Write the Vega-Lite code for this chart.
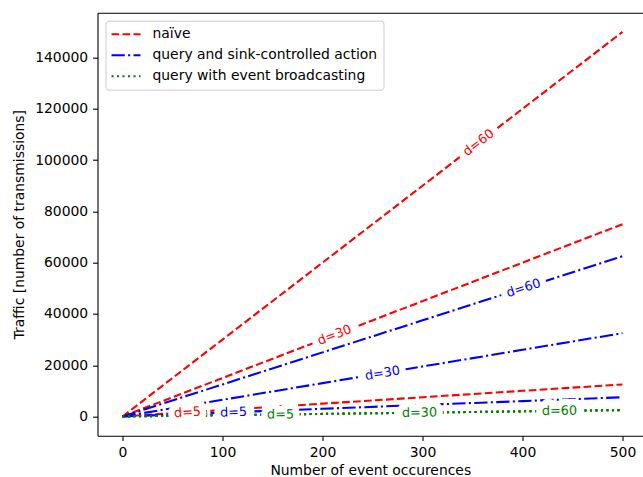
{
  "$schema": "https://vega.github.io/schema/vega-lite/v6.json",
  "width": 545.5,
  "height": 423,
  "autosize": {"type": "none"},
  "padding": {"left": 97.5, "top": 12.7, "right": 0, "bottom": 41.3},
  "background": "white",
  "config": {
    "view": {"stroke": null},
    "font": "DejaVu Sans",
    "axis": {
      "labelFont": "DejaVu Sans", "labelFontSize": 13.9, "labelColor": "black",
      "titleFont": "DejaVu Sans", "titleFontSize": 13.9, "titleFontWeight": "normal", "titleColor": "black",
      "domainColor": "black", "domainWidth": 1.1, "tickColor": "black", "tickWidth": 1.1,
      "tickSize": 4.9, "labelPadding": 4.9, "grid": false
    },
    "legend": {
      "labelFont": "DejaVu Sans", "labelFontSize": 13.9, "labelColor": "black", "labelLimit": 400
    }
  },
  "datasets": {
    "lines": [
      {"method": "naïve", "d": 60, "events": 0, "traffic": 0},
      {"method": "naïve", "d": 60, "events": 100, "traffic": 30000},
      {"method": "naïve", "d": 60, "events": 200, "traffic": 60000},
      {"method": "naïve", "d": 60, "events": 300, "traffic": 90000},
      {"method": "naïve", "d": 60, "events": 400, "traffic": 120000},
      {"method": "naïve", "d": 60, "events": 500, "traffic": 150000},
      {"method": "naïve", "d": 30, "events": 0, "traffic": 0},
      {"method": "naïve", "d": 30, "events": 100, "traffic": 15000},
      {"method": "naïve", "d": 30, "events": 200, "traffic": 30000},
      {"method": "naïve", "d": 30, "events": 300, "traffic": 45000},
      {"method": "naïve", "d": 30, "events": 400, "traffic": 60000},
      {"method": "naïve", "d": 30, "events": 500, "traffic": 75000},
      {"method": "naïve", "d": 5, "events": 0, "traffic": 0},
      {"method": "naïve", "d": 5, "events": 100, "traffic": 2500},
      {"method": "naïve", "d": 5, "events": 200, "traffic": 5000},
      {"method": "naïve", "d": 5, "events": 300, "traffic": 7500},
      {"method": "naïve", "d": 5, "events": 400, "traffic": 10000},
      {"method": "naïve", "d": 5, "events": 500, "traffic": 12500},
      {"method": "query and sink-controlled action", "d": 60, "events": 0, "traffic": 0},
      {"method": "query and sink-controlled action", "d": 60, "events": 100, "traffic": 12500},
      {"method": "query and sink-controlled action", "d": 60, "events": 200, "traffic": 25000},
      {"method": "query and sink-controlled action", "d": 60, "events": 300, "traffic": 37500},
      {"method": "query and sink-controlled action", "d": 60, "events": 400, "traffic": 50000},
      {"method": "query and sink-controlled action", "d": 60, "events": 500, "traffic": 62500},
      {"method": "query and sink-controlled action", "d": 30, "events": 0, "traffic": 0},
      {"method": "query and sink-controlled action", "d": 30, "events": 100, "traffic": 6500},
      {"method": "query and sink-controlled action", "d": 30, "events": 200, "traffic": 13000},
      {"method": "query and sink-controlled action", "d": 30, "events": 300, "traffic": 19500},
      {"method": "query and sink-controlled action", "d": 30, "events": 400, "traffic": 26000},
      {"method": "query and sink-controlled action", "d": 30, "events": 500, "traffic": 32500},
      {"method": "query and sink-controlled action", "d": 5, "events": 0, "traffic": 0},
      {"method": "query and sink-controlled action", "d": 5, "events": 100, "traffic": 1500},
      {"method": "query and sink-controlled action", "d": 5, "events": 200, "traffic": 3000},
      {"method": "query and sink-controlled action", "d": 5, "events": 300, "traffic": 4500},
      {"method": "query and sink-controlled action", "d": 5, "events": 400, "traffic": 6000},
      {"method": "query and sink-controlled action", "d": 5, "events": 500, "traffic": 7500},
      {"method": "query with event broadcasting", "d": 60, "events": 0, "traffic": 0},
      {"method": "query with event broadcasting", "d": 60, "events": 100, "traffic": 500},
      {"method": "query with event broadcasting", "d": 60, "events": 200, "traffic": 1000},
      {"method": "query with event broadcasting", "d": 60, "events": 300, "traffic": 1500},
      {"method": "query with event broadcasting", "d": 60, "events": 400, "traffic": 2000},
      {"method": "query with event broadcasting", "d": 60, "events": 500, "traffic": 2500},
      {"method": "query with event broadcasting", "d": 30, "events": 0, "traffic": 0},
      {"method": "query with event broadcasting", "d": 30, "events": 100, "traffic": 500},
      {"method": "query with event broadcasting", "d": 30, "events": 200, "traffic": 1000},
      {"method": "query with event broadcasting", "d": 30, "events": 300, "traffic": 1500},
      {"method": "query with event broadcasting", "d": 30, "events": 400, "traffic": 2000},
      {"method": "query with event broadcasting", "d": 30, "events": 500, "traffic": 2500},
      {"method": "query with event broadcasting", "d": 5, "events": 0, "traffic": 0},
      {"method": "query with event broadcasting", "d": 5, "events": 100, "traffic": 500},
      {"method": "query with event broadcasting", "d": 5, "events": 200, "traffic": 1000},
      {"method": "query with event broadcasting", "d": 5, "events": 300, "traffic": 1500},
      {"method": "query with event broadcasting", "d": 5, "events": 400, "traffic": 2000},
      {"method": "query with event broadcasting", "d": 5, "events": 500, "traffic": 2500}
    ],
    "labels": [
      {"method": "naïve", "label": "d=60", "rate": 300, "events": 356, "traffic": 106800},
      {"method": "naïve", "label": "d=30", "rate": 150, "events": 212, "traffic": 31800},
      {"method": "naïve", "label": "d=5", "rate": 25, "events": 65, "traffic": 1625},
      {"method": "query and sink-controlled action", "label": "d=60", "rate": 125, "events": 401, "traffic": 50125},
      {"method": "query and sink-controlled action", "label": "d=30", "rate": 65, "events": 260, "traffic": 16900},
      {"method": "query and sink-controlled action", "label": "d=5", "rate": 15, "events": 111, "traffic": 1665},
      {"method": "query with event broadcasting", "label": "d=5", "rate": 5, "events": 158, "traffic": 790},
      {"method": "query with event broadcasting", "label": "d=30", "rate": 5, "events": 297, "traffic": 1485},
      {"method": "query with event broadcasting", "label": "d=60", "rate": 5, "events": 437, "traffic": 2185}
    ]
  },
  "layer": [
    {
      "data": {"name": "lines"},
      "mark": {"type": "line", "strokeWidth": 2.08, "strokeCap": "butt"},
      "encoding": {
        "x": {
          "field": "events", "type": "quantitative",
          "scale": {"domain": [-25, 520.5], "nice": false, "zero": false},
          "axis": {"orient": "bottom", "values": [0, 100, 200, 300, 400, 500], "title": "Number of event occurences", "titlePadding": 4}
        },
        "y": {
          "field": "traffic", "type": "quantitative",
          "scale": {"domain": [-7500, 157500], "nice": false, "zero": false},
          "axis": {"values": [0, 20000, 40000, 60000, 80000, 100000, 120000, 140000], "format": "d", "title": "Traffic [number of transmissions]", "titlePadding": 8}
        },
        "color": {
          "field": "method", "type": "nominal",
          "scale": {"domain": ["naïve", "query and sink-controlled action", "query with event broadcasting"], "range": ["#ff0000", "#0000ff", "#008000"]},
          "legend": {
            "title": null, "orient": "top-left", "offset": 8,
            "symbolType": "M-1.25,0H3.58", "symbolSize": 144, "symbolStrokeWidth": 2.08,
            "labelOffset": 26, "rowPadding": 6, "padding": 6,
            "strokeColor": "#cccccc", "cornerRadius": 3, "fillColor": "white"
          }
        },
        "strokeDash": {
          "field": "method", "type": "nominal",
          "scale": {"domain": ["naïve", "query and sink-controlled action", "query with event broadcasting"], "range": [[7.7, 3.3], [13.3, 3.3, 2.1, 3.3], [2.1, 3.4]]},
          "legend": {
            "title": null, "orient": "top-left", "offset": 8,
            "symbolType": "M-1.25,0H3.58", "symbolSize": 144, "symbolStrokeWidth": 2.08,
            "labelOffset": 26, "rowPadding": 6, "padding": 6,
            "strokeColor": "#cccccc", "cornerRadius": 3, "fillColor": "white"
          }
        },
        "detail": {"field": "d", "type": "nominal"}
      }
    },
    {
      "data": {"name": "labels"},
      "mark": {"type": "text", "fill": "white", "stroke": "white", "strokeWidth": 13, "strokeJoin": "round", "fontSize": 12.8, "font": "DejaVu Sans", "align": "center", "baseline": "middle"},
      "encoding": {
        "x": {
          "field": "events", "type": "quantitative",
          "scale": {"domain": [-25, 520.5], "nice": false, "zero": false},
          "axis": {"orient": "top", "labels": false, "ticks": false, "title": null, "domain": true}
        },
        "y": {"field": "traffic", "type": "quantitative", "scale": {"domain": [-7500, 157500], "nice": false, "zero": false}},
        "angle": {
          "field": "rate", "type": "quantitative",
          "scale": {"domain": [5, 15, 25, 65, 125, 150, 300], "range": [-0.73, -2.2, -3.67, -9.46, -17.77, -21.03, -37.56]},
          "legend": null
        },
        "text": {"field": "label"}
      }
    },
    {
      "data": {"name": "labels"},
      "mark": {"type": "text", "fontSize": 12.8, "font": "DejaVu Sans", "align": "center", "baseline": "middle"},
      "encoding": {
        "x": {
          "field": "events", "type": "quantitative",
          "scale": {"domain": [-25, 520.5], "nice": false, "zero": false},
          "axis": null
        },
        "y": {"field": "traffic", "type": "quantitative", "scale": {"domain": [-7500, 157500], "nice": false, "zero": false}},
        "angle": {
          "field": "rate", "type": "quantitative",
          "scale": {"domain": [5, 15, 25, 65, 125, 150, 300], "range": [-0.73, -2.2, -3.67, -9.46, -17.77, -21.03, -37.56]},
          "legend": null
        },
        "color": {
          "field": "method", "type": "nominal",
          "scale": {"domain": ["naïve", "query and sink-controlled action", "query with event broadcasting"], "range": ["#ff0000", "#0000ff", "#008000"]},
          "legend": null
        },
        "text": {"field": "label"}
      }
    }
  ],
  "resolve": {"axis": {"x": "independent"}}
}
